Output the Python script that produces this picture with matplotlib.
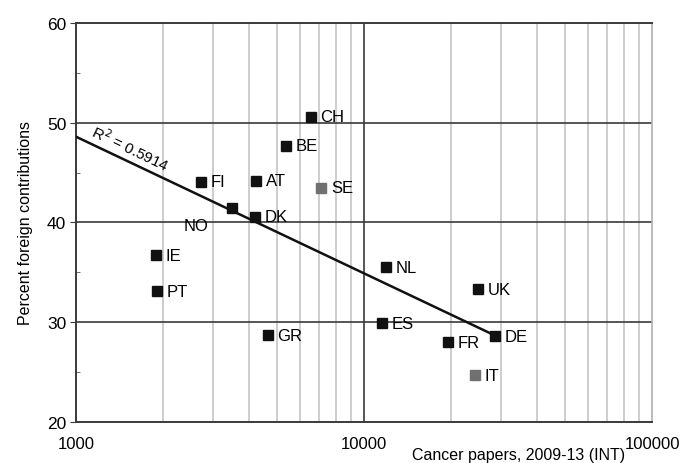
import numpy as np
import matplotlib.pyplot as plt

plt.rcParams['font.family'] = ['Liberation Sans', 'DejaVu Sans']

# countries, cancer papers 2009-13 (INT), percent foreign contributions
countries = ['CH', 'BE', 'FI', 'AT', 'SE', 'NO', 'DK', 'IE', 'PT', 'GR',
             'NL', 'UK', 'ES', 'FR', 'DE', 'IT']
papers = [6530, 5350, 2710, 4230, 7110, 3490, 4170, 1890, 1910, 4630,
          11900, 24800, 11550, 19500, 28500, 24200]
foreign = [50.6, 47.7, 44.1, 44.2, 43.5, 41.5, 40.6, 36.7, 33.1, 28.7,
           35.5, 33.3, 29.9, 28.0, 28.6, 24.7]
grey_points = ['SE', 'IT']

# logarithmic trendline as printed: y = a + b*log10(x/1000)
trend_a = 48.6
trend_b = -13.7
r2_text = 'R$^2$ = 0.5914'

fig = plt.figure(figsize=(6.91, 4.64), dpi=100)
ax = fig.add_axes([0.110, 0.0884, 0.8336, 0.8599])
ax.set_xscale('log')
ax.set_xlim(1000, 100000)
ax.set_ylim(20, 60)

# grid: light minor verticals, dark major lines
for m in [2, 3, 4, 5, 6, 7, 8, 9]:
    for d in [1000, 10000]:
        ax.axvline(m * d, color='#c9c9c9', lw=1.3, zorder=0)
ax.axvline(10000, color='#3a3a3a', lw=1.2, zorder=1)
for yv in [30, 40, 50]:
    ax.axhline(yv, color='#3a3a3a', lw=1.2, zorder=1)

for s in ['left', 'bottom', 'top']:
    ax.spines[s].set_color('#3a3a3a')
    ax.spines[s].set_linewidth(1.4)
ax.spines['right'].set_color('#b0b0b0')
ax.spines['right'].set_linewidth(1.2)

ax.set_yticks([20, 30, 40, 50, 60])
ax.set_yticks([25, 35, 45, 55], minor=True)
ax.tick_params(axis='y', which='major', direction='out', length=4, color='#3a3a3a',
               labelsize=12.5, pad=3)
ax.tick_params(axis='y', which='minor', direction='in', length=3, color='#555555')
ax.set_xticks([1000, 10000, 100000])
ax.set_xticklabels(['1000', '10000', '100000'])
ax.xaxis.set_minor_locator(plt.NullLocator())
ax.tick_params(axis='x', length=0, labelsize=12, pad=10)

ax.set_ylabel('Percent foreign contributions', fontsize=11.5, labelpad=10)
ax.text(0.769, -0.082, 'Cancer papers, 2009-13 (INT)', transform=ax.transAxes,
        ha='center', va='center', fontsize=11.5)

x = np.array(papers, dtype=float)
xl = np.array([1000, x.max()])
ax.plot(xl, trend_a + trend_b * np.log10(xl / 1000), color='#111111', lw=1.8, zorder=3)

for c, px, py in zip(countries, papers, foreign):
    col = '#707070' if c in grey_points else '#111111'
    ax.plot(px, py, marker='s', ms=7, color=col, ls='none', zorder=4)
    if c == 'NO':
        ax.annotate(c, (px, py), xytext=(-35, -13), textcoords='offset points',
                    fontsize=12, va='center', ha='left')
    else:
        ax.annotate(c, (px, py), xytext=(7, 0), textcoords='offset points',
                    fontsize=12, va='center', ha='left')

ax.text(1110, 48.5, r2_text, rotation=-25.5, fontsize=11, ha='left', va='bottom',
        rotation_mode='anchor', zorder=5)

fig.savefig('out.png', dpi=100)
